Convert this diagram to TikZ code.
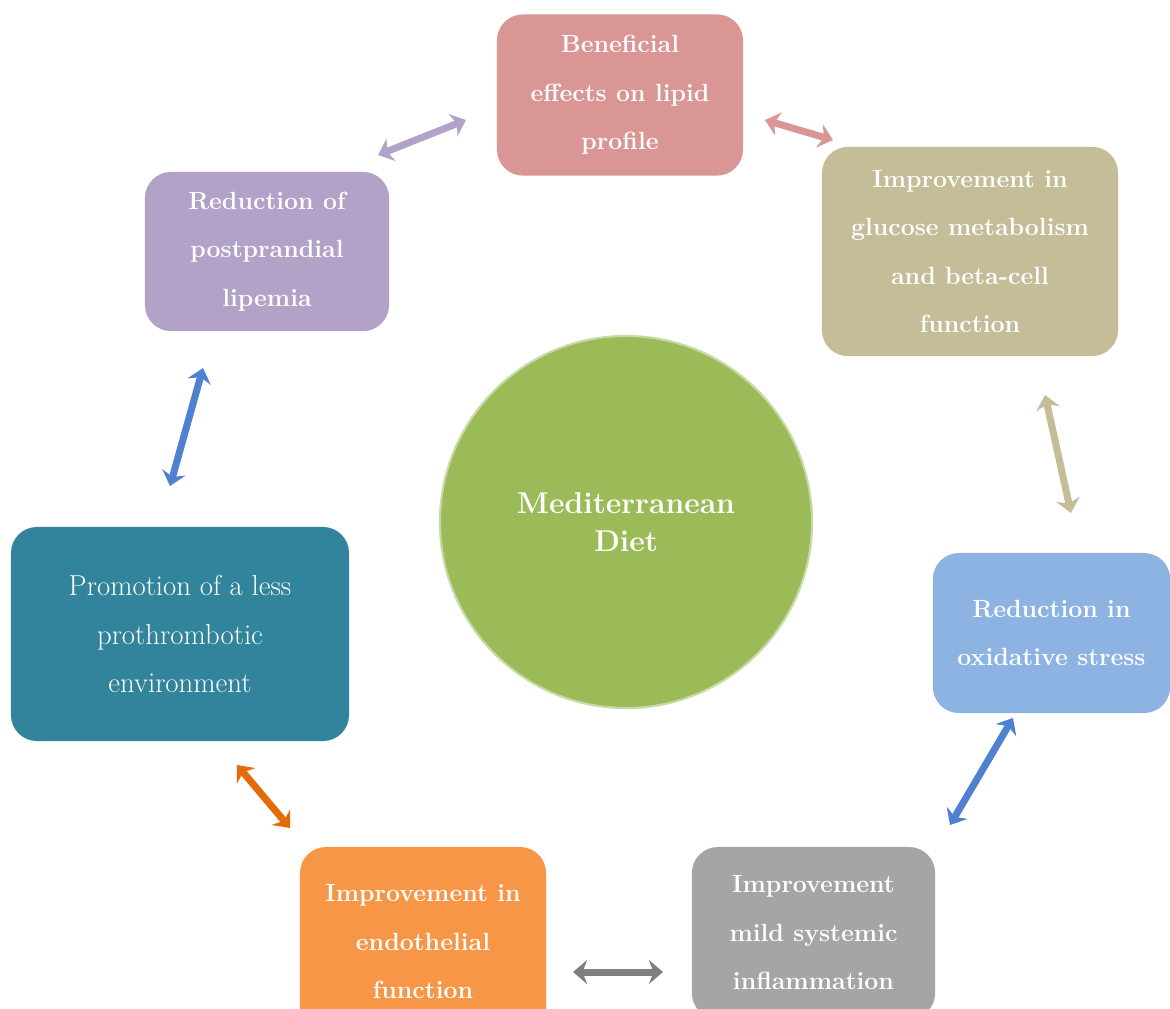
\documentclass[tikz,border=0pt]{standalone}
\usepackage{xcolor}
\usepackage{tikz}
\usetikzlibrary{arrows.meta}
\definecolor{lipid}{HTML}{D99694}
\definecolor{gluc}{HTML}{C4BD97}
\definecolor{lipem}{HTML}{B2A2C7}
\definecolor{throm}{HTML}{31849B}
\definecolor{oxid}{HTML}{8DB3E2}
\definecolor{inflam}{HTML}{A5A5A5}
\definecolor{endo}{HTML}{F79646}
\definecolor{diet}{HTML}{9BBB59}
\definecolor{bluearr}{HTML}{4F81D0}
\definecolor{grayarr}{HTML}{7F7F7F}
\definecolor{orangearr}{HTML}{E36C09}
\tikzset{
  card/.style={rounded corners=0.65cm, inner sep=0pt, text=white, align=center,
    font=\fontsize{17.7}{34.5}\selectfont\bfseries},
  cardm/.style={card, font=\fontsize{20.5}{34.5}\selectfont},
  hub/.style={circle, inner sep=0pt, minimum size=9.3cm, fill=diet,
    draw=diet!55!white, line width=1.5pt, text=white, align=center,
    font=\fontsize{21.4}{27}\selectfont\bfseries},
  link/.style={line width=5pt, {Stealth[length=10pt,width=17pt]}-{Stealth[length=10pt,width=17pt]}},
}
\begin{document}
\begin{tikzpicture}[x=0.025cm, y=-0.025cm]
  \clip (0,0) rectangle (1170,1008);
  \fill[white] (0,0) rectangle (1170,1008);

  \node[hub] (diet) at (626,522) {Mediterranean\\Diet};

  \node[card, fill=lipid, minimum width=6.15cm, minimum height=4.03cm] (lip) at (620,95)
    {Beneficial\\effects on lipid\\profile};
  \node[card, fill=gluc, minimum width=7.4cm, minimum height=5.23cm] (glu) at (970,251.5)
    {Improvement in\\glucose metabolism\\and beta-cell\\function};
  \node[card, fill=lipem, minimum width=6.1cm, minimum height=3.98cm] (pos) at (267,251.5)
    {Reduction of\\postprandial\\lipemia};
  \node[cardm, fill=throm, minimum width=8.45cm, minimum height=5.35cm] (thr) at (180,634)
    {Promotion of a less\\prothrombotic\\environment};
  \node[card, fill=oxid, minimum width=5.93cm, minimum height=4cm] (oxi) at (1051.5,633)
    {Reduction in\\oxidative stress};
  \node[card, fill=inflam, minimum width=6.08cm, minimum height=4.3cm] (inf) at (813.5,933)
    {Improvement\\mild systemic\\inflammation};
  \node[card, fill=endo, minimum width=6.15cm, minimum height=4.75cm] (end) at (423,942)
    {Improvement in\\endothelial\\function};

  % arrow ends
  \coordinate (a1) at (378,155);  \coordinate (a2) at (466,120);
  \coordinate (b1) at (765,120);  \coordinate (b2) at (833,140);
  \coordinate (c1) at (1045,395); \coordinate (c2) at (1071,513);
  \coordinate (d1) at (1013,718); \coordinate (d2) at (950,825);
  \coordinate (e1) at (573,972);  \coordinate (e2) at (663,972);
  \coordinate (f1) at (237,765);  \coordinate (f2) at (290,828);
  \coordinate (g1) at (203,368);  \coordinate (g2) at (170,486);

  \draw[link, draw=lipem] (a1) -- (a2);
  \draw[link, draw=lipid] (b1) -- (b2);
  \draw[link, draw=gluc] (c1) -- (c2);
  \draw[link, draw=bluearr] (d1) -- (d2);
  \draw[link, draw=grayarr] (e1) -- (e2);
  \draw[link, draw=orangearr] (f1) -- (f2);
  \draw[link, draw=bluearr] (g1) -- (g2);
\end{tikzpicture}
\end{document}
